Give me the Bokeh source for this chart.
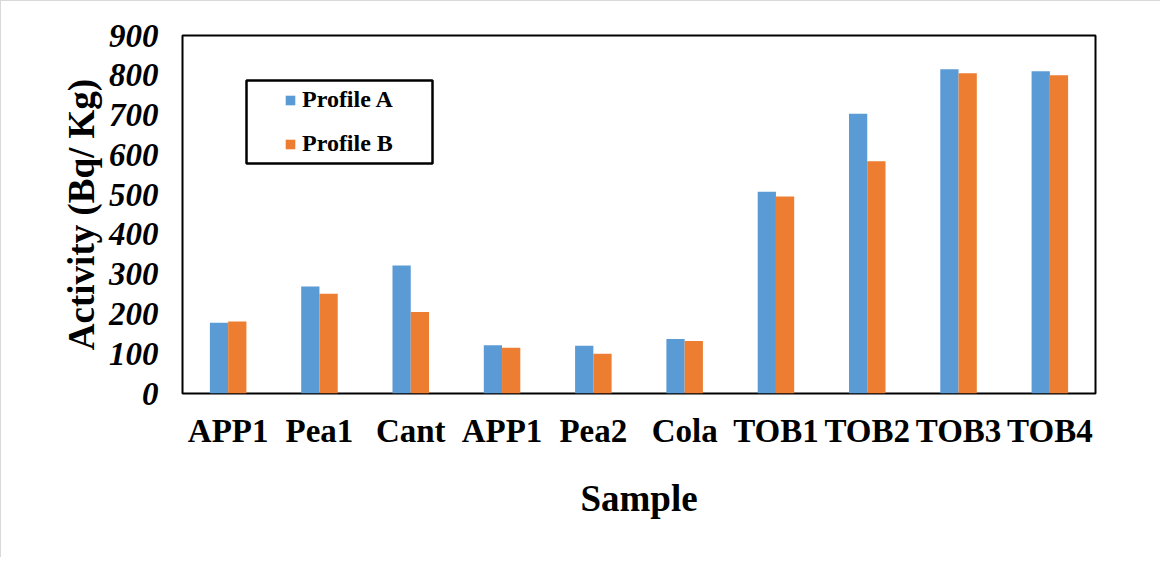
from bokeh.plotting import figure
from bokeh.models import ColumnDataSource, FixedTicker, Legend, LegendItem, BoxAnnotation, Range1d
from bokeh.embed import file_html
from bokeh.resources import INLINE

samples = ["APP1", "Pea1", "Cant", "APP1", "Pea2", "Cola", "TOB1", "TOB2", "TOB3", "TOB4"]
profile_a = [178, 269, 322, 121, 120, 137, 507, 703, 815, 810]
profile_b = [181, 251, 205, 115, 100, 132, 495, 584, 805, 800]
y_ticks = [0, 100, 200, 300, 400, 500, 600, 700, 800, 900]

FONT = "Liberation Serif"
BLUE = "#5B9BD5"
ORANGE = "#ED7D31"

centers = [i + 0.5 for i in range(len(samples))]
src = ColumnDataSource(dict(
    xa=[c - 0.1 for c in centers],
    xb=[c + 0.1 for c in centers],
    a=profile_a,
    b=profile_b,
))

p = figure(width=1160, height=557, output_backend="svg", toolbar_location=None,
           x_range=Range1d(0, len(samples)), y_range=Range1d(0, 900),
           min_border_left=181, min_border_right=66, min_border_top=34, min_border_bottom=165)
p.styles = {"border-top": "1px solid #d9d9d9", "border-left": "1px solid #d9d9d9"}

ra = p.vbar(x="xa", top="a", width=0.2, source=src, fill_color=BLUE, line_color=None)
rb = p.vbar(x="xb", top="b", width=0.2, source=src, fill_color=ORANGE, line_color=None)

p.xgrid.grid_line_color = None
p.ygrid.grid_line_color = None
p.outline_line_color = "black"
p.outline_line_width = 2
p.outline_line_alpha = 1

xa = p.xaxis[0]
xa.ticker = FixedTicker(ticks=centers)
xa.major_label_overrides = {c: s for c, s in zip(centers, samples)}
xa.major_label_text_font = FONT
xa.major_label_text_font_style = "bold"
xa.major_label_text_font_size = "33px"
xa.major_label_text_color = "black"
xa.major_label_standoff = 13
xa.major_tick_line_color = None
xa.minor_tick_line_color = None
xa.axis_line_color = None
xa.axis_label = "Sample"
xa.axis_label_text_font = FONT
xa.axis_label_text_font_style = "bold"
xa.axis_label_text_font_size = "37px"
xa.axis_label_text_color = "black"
xa.axis_label_standoff = 26

ya = p.yaxis[0]
ya.ticker = FixedTicker(ticks=y_ticks)
ya.major_label_text_font = FONT
ya.major_label_text_font_style = "bold italic"
ya.major_label_text_font_size = "33px"
ya.major_label_text_color = "black"
ya.major_label_standoff = 18
ya.major_tick_line_color = None
ya.minor_tick_line_color = None
ya.axis_line_color = None
ya.axis_label = "Activity (Bq/ Kg)"
ya.axis_label_text_font = FONT
ya.axis_label_text_font_style = "bold"
ya.axis_label_text_font_size = "37px"
ya.axis_label_text_color = "black"
ya.axis_label_standoff = 4

legend = Legend(items=[LegendItem(label="Profile A", renderers=[ra]),
                       LegendItem(label="Profile B", renderers=[rb])],
                location=(102, 236), padding=0, margin=0, spacing=17,
                glyph_width=12, glyph_height=12, label_height=26, label_standoff=6,
                label_text_font=FONT, label_text_font_style="bold", label_text_font_size="24px",
                label_text_color="black",
                border_line_color=None, background_fill_alpha=0)
p.add_layout(legend)

box = BoxAnnotation(left=64, right=250, bottom=230, top=313,
                    left_units="screen", right_units="screen", bottom_units="screen", top_units="screen",
                    fill_alpha=0, line_color="black", line_alpha=1, line_width=2.5)
p.add_layout(box)

open("out.html", "w").write(file_html(p, INLINE))
